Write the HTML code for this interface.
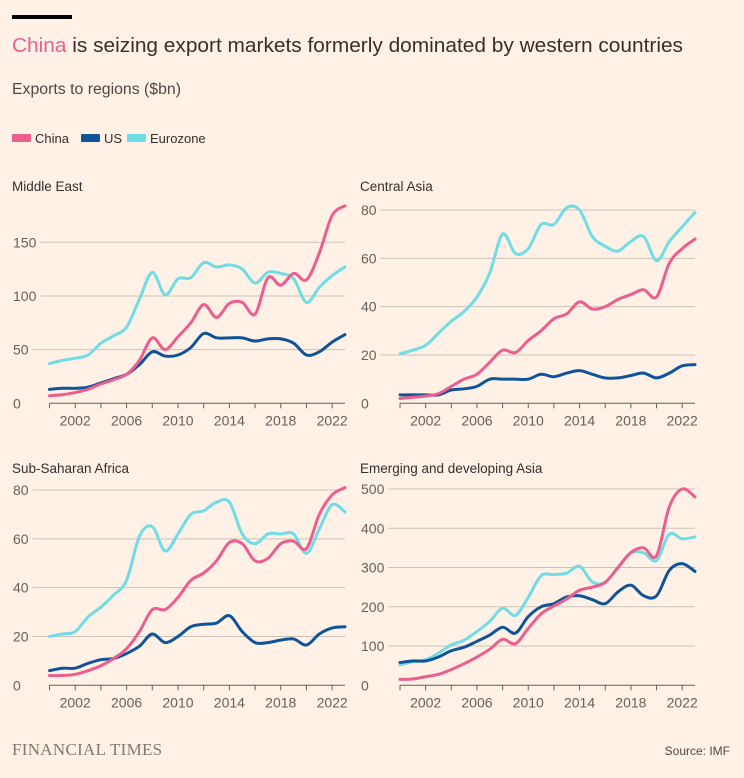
<!DOCTYPE html>
<html><head><meta charset="utf-8"><style>
html,body{margin:0;padding:0;background:#fff1e5;}
body{width:744px;height:778px;position:relative;font-family:"Liberation Sans",sans-serif;color:#33302e;overflow:hidden;}
</style></head><body>
<svg id="s" width="744" height="778" xmlns="http://www.w3.org/2000/svg" style="position:absolute;left:0;top:0">
<rect x="12" y="15" width="60" height="4" fill="#000"/>
<text x="12" y="52" font-size="20.5" fill="#33302e" font-family="Liberation Sans, sans-serif" textLength="671" lengthAdjust="spacingAndGlyphs"><tspan fill="#eb5e8d">China</tspan> is seizing export markets formerly dominated by western countries</text>
<text x="12" y="94" font-size="15.5" fill="#4d4845" font-family="Liberation Sans, sans-serif" textLength="169" lengthAdjust="spacingAndGlyphs">Exports to regions ($bn)</text>
<rect x="12" y="134" width="19" height="8" rx="1" fill="#eb5e8d"/>
<text x="35" y="143" font-size="13" fill="#33302e" font-family="Liberation Sans, sans-serif">China</text>
<rect x="81" y="134" width="19" height="8" rx="1" fill="#0f5499"/>
<text x="104" y="143" font-size="13" fill="#33302e" font-family="Liberation Sans, sans-serif">US</text>
<rect x="127" y="134" width="19" height="8" rx="1" fill="#70dce6"/>
<text x="150" y="143" font-size="13" fill="#33302e" font-family="Liberation Sans, sans-serif">Eurozone</text>
<text x="12" y="755" font-size="17" fill="#807973" font-family="Liberation Serif, serif" letter-spacing="0.3">FINANCIAL TIMES</text>
<text x="730" y="755" font-size="12" fill="#4d4845" text-anchor="end" font-family="Liberation Sans, sans-serif">Source: IMF</text>
<g id="g"></g>
</svg>
<script>
var NS="http://www.w3.org/2000/svg",G=document.getElementById('g');
function el(t,a,txt){var e=document.createElementNS(NS,t);for(var k in a)e.setAttribute(k,a[k]);if(txt!=null)e.textContent=txt;G.appendChild(e);return e;}
var panels=[
{t:"Middle East",x0:12,xa:49.5,xb:345,y0:403.3,ymax:150,yTop:242.3,ticks:[0,50,100,150],
d:[[7,8,10,13,18,22,27,40,61,50,62,75,92,80,93,94,83,117,110,121,115,140,175,184],
[13,14,14,15,19,23,27,36,48,44,45,52,65,61,61,61,58,60,60,56,45,48,57,64],
[37,40,42,45,56,63,71,97,122,101,116,117,131,127,129,125,112,122,121,116,94,108,119,127]]},
{t:"Central Asia",x0:360,xa:400,xb:695,y0:403.3,ymax:80,yTop:210,ticks:[0,20,40,60,80],
d:[[2,2.5,3,4,7,10,12,17,22,21,26,30,35,37,42,39,40,43,45,47,44,58,64,68],
[3.5,3.5,3.5,3.5,5.5,6,7,10,10,10,10,12,11,12.5,13.5,12,10.5,10.5,11.5,12.5,10.5,12.5,15.5,16],
[20.5,22,24,29,34,38,44,54,70,62,64,74,74,81,80,69,65,63,67,69,59,67,73,79]]},
{t:"Sub-Saharan Africa",x0:12,xa:49.5,xb:345,y0:685.3,ymax:80,yTop:490,ticks:[0,20,40,60,80],
d:[[4,4,4.5,6,8,11,15,22,31,31,36,43,46,51,58.5,58,51,52,58,59,56,70,78,81],
[6,7,7,9,10.5,11,13,16,21,17.5,20,24,25,25.5,28.5,22,17.5,17.5,18.5,19,16.5,21,23.5,24],
[20,21,22,28,32,37,43,61,65,55,62,70,71.5,75,75,62,58,62,62,62,54,64,74,71]]},
{t:"Emerging and developing Asia",x0:360,xa:400,xb:695,y0:685.3,ymax:500,yTop:489,ticks:[0,100,200,300,400,500],
d:[[15,16,22,28,40,55,72,92,117,106,145,182,202,220,242,250,262,300,338,350,330,455,500,480],
[58,62,62,72,88,97,112,128,148,133,175,200,208,225,228,218,208,238,255,228,228,293,310,290],
[52,60,65,82,103,115,137,163,196,178,224,279,282,286,303,263,263,301,337,337,318,385,373,378]]}
];
var cols=["#eb5e8d","#0f5499","#70dce6"];
panels.forEach(function(p){
  var topTitle=p.y0>500?468:186;
  el('text',{x:p.x0,y:topTitle+5,'font-size':13.5,fill:'#33302e'},p.t);
  var sx=function(i){return p.xa+(p.xb-p.xa)*i/23;};
  var sy=function(v){return p.y0-(p.y0-p.yTop)*v/p.ymax;};
  p.ticks.forEach(function(v){
    var y=sy(v);
    var t=el('text',{x:p.x0+1,y:y+5,'font-size':14,fill:'#66605c'},String(v));
    var w=t.getComputedTextLength();
    if(v===0){el('line',{x1:p.xa,x2:p.xb,y1:y,y2:y,stroke:'#66605c','stroke-width':1});}
    else el('line',{x1:p.x0+w+5,x2:p.xb,y1:y,y2:y,stroke:'#ccc1b7','stroke-width':1});
  });
  for(var yr=0;yr<=23;yr+=2){var x=sx(yr);el('line',{x1:x,x2:x,y1:p.y0,y2:p.y0+5,stroke:'#66605c','stroke-width':1});}
  [2002,2006,2010,2014,2018,2022].forEach(function(yr){el('text',{x:sx(yr-2000),y:p.y0+22,'font-size':14,fill:'#66605c','text-anchor':'middle'},String(yr));});
  [2,1,0].forEach(function(k){
    var pts=p.d[k].map(function(v,i){return [sx(i),sy(v)];});
    var s="M"+pts[0][0]+","+pts[0][1];
    for(var i=0;i<pts.length-1;i++){
      var p0=pts[Math.max(i-1,0)],p1=pts[i],p2=pts[i+1],p3=pts[Math.min(i+2,pts.length-1)];
      var c1=[p1[0]+(p2[0]-p0[0])/6,p1[1]+(p2[1]-p0[1])/6],c2=[p2[0]-(p3[0]-p1[0])/6,p2[1]-(p3[1]-p1[1])/6];
      s+=" C"+c1+" "+c2+" "+p2;
    }
    el('path',{d:s,fill:'none',stroke:cols[k],'stroke-width':3,'stroke-linejoin':'round','stroke-linecap':'round'});
  });
});
</script>
</body></html>
